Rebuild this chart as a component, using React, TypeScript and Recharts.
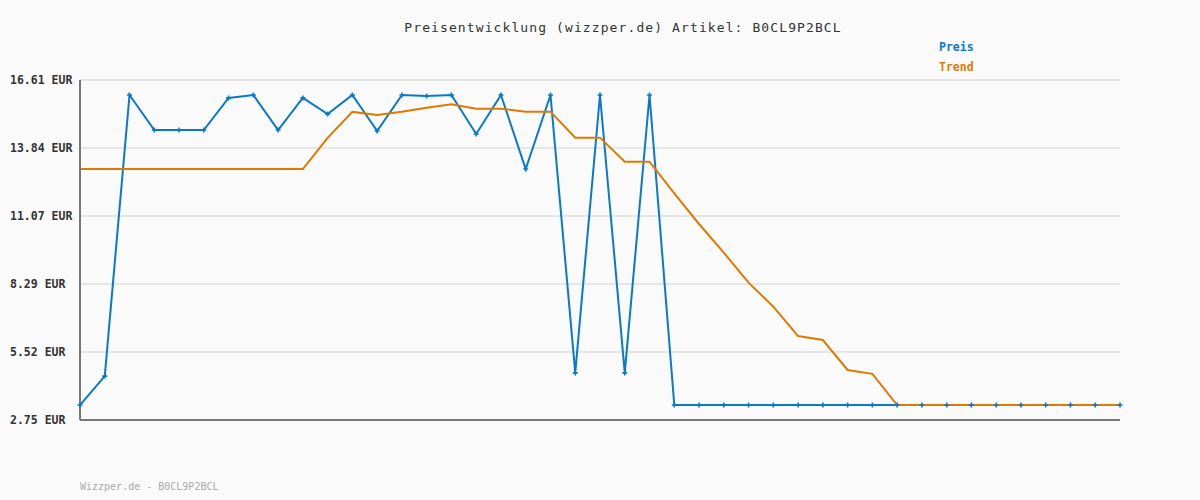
import React from 'react';
import { LineChart, Line, XAxis, YAxis, CartesianGrid, Legend } from 'recharts';

const labels: string[] = Array.from({ length: 43 }, (_, i) => `P${i + 1}`);

const preis: number[] = [
  3.36, 4.54, 16.0, 14.57, 14.57, 14.57, 15.88, 16.0, 14.57, 15.88,
  15.22, 16.0, 14.53, 16.0, 15.96, 16.0, 14.41, 16.0, 12.98, 16.0,
  4.67, 16.0, 4.67, 16.0, 3.36, 3.36, 3.36, 3.36, 3.36, 3.36,
  3.36, 3.36, 3.36, 3.36, 3.36, 3.36, 3.36, 3.36, 3.36, 3.36,
  3.36, 3.36, 3.36,
];

const trend: number[] = [
  12.98, 12.98, 12.98, 12.98, 12.98, 12.98, 12.98, 12.98, 12.98, 12.98,
  14.25, 15.31, 15.18, 15.32, 15.48, 15.62, 15.44, 15.44, 15.32, 15.32,
  14.26, 14.26, 13.28, 13.28, 11.99, 10.74, 9.57, 8.35, 7.37, 6.17,
  6.01, 4.79, 4.63, 3.36, 3.36, 3.36, 3.36, 3.36, 3.36, 3.36,
  3.36, 3.36, 3.36,
];

const yTicks: number[] = [2.75, 5.52, 8.29, 11.07, 13.84, 16.61];

const title = 'Preisentwicklung (wizzper.de) Artikel: B0CL9P2BCL';
const footer = 'Wizzper.de - B0CL9P2BCL';

const BLUE = '#0a79c8';
const ORANGE = '#df7a00';
const MONO = '"DejaVu Sans Mono", "Liberation Mono", monospace';

const data = labels.map((name, i) => ({ name, preis: preis[i], trend: trend[i] }));

const PlusDot = (props: any) => {
  const { cx, cy } = props;
  if (cx == null || cy == null) return null;
  return (
    <path
      d={`M${cx - 2.5},${cy}H${cx + 2.5}M${cx},${cy - 2.5}V${cy + 2.5}`}
      stroke={BLUE}
      strokeWidth={1.6}
      fill="none"
    />
  );
};

const YTick = (props: any) => {
  const { y, payload } = props;
  return (
    <text x={10} y={y} dy={4} textAnchor="start" fontFamily={MONO} fontSize={11.5} fontWeight="bold" fill="#333">
      {payload.value.toFixed(2)} EUR
    </text>
  );
};

const LegendContent = (props: any) => {
  const { payload } = props;
  return (
    <div style={{ fontFamily: MONO, fontSize: 11.5, fontWeight: 'bold' }}>
      {(payload || []).map((p: any) => (
        <div key={p.value} style={{ color: p.color, height: 20, lineHeight: '20px' }}>{p.value}</div>
      ))}
    </div>
  );
};

export default function App() {
  return (
    <div style={{ position: 'absolute', left: 0, top: 0, width: 1200, height: 500, background: '#fafafa' }}>
      <div
        style={{
          position: 'absolute', left: 0, top: 20, width: 1246, textAlign: 'center',
          fontFamily: MONO, fontSize: 13, letterSpacing: 1.1, color: '#333',
        }}
      >
        {title}
      </div>
      <LineChart width={1200} height={500} data={data} margin={{ top: 40, right: 80, bottom: 79, left: 0 }}>
        <CartesianGrid horizontal vertical={false} stroke="#e6e6e6" strokeWidth={2} />
        <XAxis dataKey="name" tick={false} tickLine={false} axisLine={{ stroke: '#777', strokeWidth: 2 }} height={1} />
        <YAxis
          domain={[2.75, 16.61]}
          ticks={yTicks}
          type="number"
          width={80}
          tick={<YTick />}
          tickLine={false}
          axisLine={{ stroke: '#777', strokeWidth: 2 }}
          allowDataOverflow
        />
        <Legend
          verticalAlign="top"
          align="left"
          content={<LegendContent />}
          wrapperStyle={{ position: 'absolute', left: 939, top: 37, width: 60 }}
        />
        <Line
          name="Preis"
          dataKey="preis"
          stroke={BLUE}
          strokeWidth={2}
          dot={<PlusDot />}
          activeDot={false}
          isAnimationActive={false}
          type="linear"
        />
        <Line
          name="Trend"
          dataKey="trend"
          stroke={ORANGE}
          strokeWidth={2}
          dot={false}
          activeDot={false}
          isAnimationActive={false}
          type="linear"
        />
      </LineChart>
      <div
        style={{
          position: 'absolute', left: 80, top: 481, fontFamily: MONO, fontSize: 10, color: '#aaa',
        }}
      >
        {footer}
      </div>
    </div>
  );
}
